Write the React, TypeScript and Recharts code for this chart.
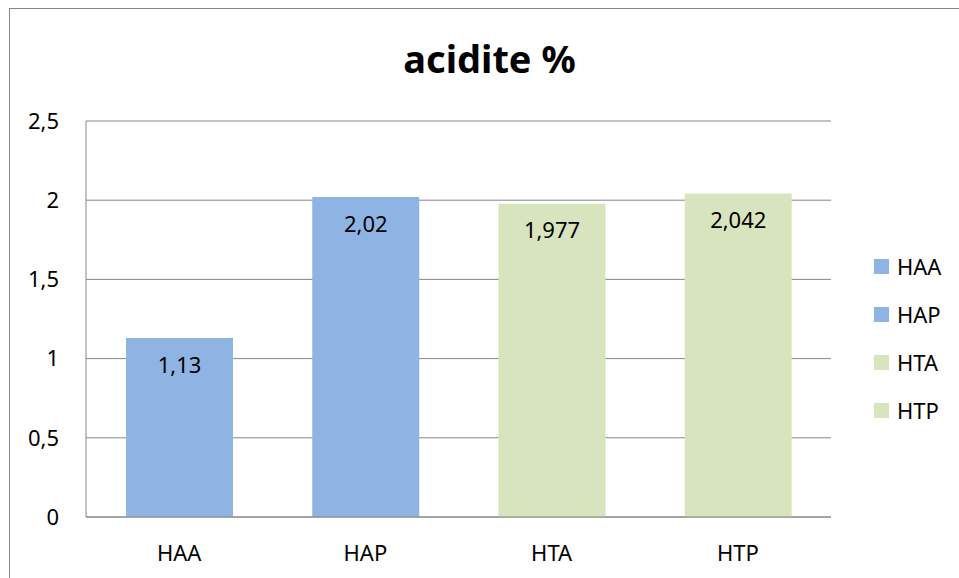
import React from "react";
import { BarChart, Bar, XAxis, YAxis, CartesianGrid, Legend, LabelList, Cell } from "recharts";

const categories = ["HAA", "HAP", "HTA", "HTP"];
const acidite = [1.13, 2.02, 1.977, 2.042];
const barColors = ["#8EB4E3", "#8EB4E3", "#D7E4BD", "#D7E4BD"];
const yTicks = [0, 0.5, 1, 1.5, 2, 2.5];
const title = "acidite %";

const data = categories.map((name, i) => ({ name, value: acidite[i] }));
const FONT = "'Noto Sans', sans-serif";
const FS = 22;
const fmt = (v: any) => String(v).replace(".", ",");

const LegendContent = () => (
  <div style={{ fontFamily: FONT, fontSize: FS, color: "#000" }}>
    {categories.map((c, i) => (
      <div key={c} style={{ display: "flex", alignItems: "center", height: 48 }}>
        <div style={{ width: 15, height: 15, background: barColors[i], marginRight: 8 }} />
        <span style={{ lineHeight: "22px" }}>{c}</span>
      </div>
    ))}
  </div>
);

export default function App() {
  return (
    <div>
      <style>{`body{margin:0;overflow:hidden;}`}</style>
      <div
        style={{
          position: "absolute",
          left: 0,
          top: 39,
          width: 979,
          textAlign: "center",
          fontFamily: FONT,
          fontWeight: 700,
          fontSize: 38,
          lineHeight: "38px",
          color: "#000",
          zIndex: 2,
        }}
      >
        {title}
      </div>
      <div
        style={{
          position: "absolute",
          left: 9,
          top: 8,
          width: 950,
          height: 570,
          boxSizing: "border-box",
          borderTop: "1px solid #868686",
          borderLeft: "1px solid #868686",
        }}
      >
        <BarChart
          width={949}
          height={569}
          data={data}
          margin={{ top: 112, right: 128, left: 0, bottom: 0 }}
        >
          <CartesianGrid vertical={false} stroke="#868686" strokeWidth={1} />
          <XAxis
            dataKey="name"
            height={61}
            tickLine={false}
            tickSize={0}
            tickMargin={28}
            axisLine={{ stroke: "#868686" }}
            tick={{ fill: "#000", fontSize: FS, fontFamily: FONT }}
          />
          <YAxis
            width={76}
            domain={[0, 2.5]}
            ticks={yTicks}
            tickFormatter={fmt}
            tickLine={false}
            tickSize={0}
            tickMargin={27}
            axisLine={{ stroke: "#868686" }}
            tick={{ fill: "#000", fontSize: FS, fontFamily: FONT }}
          />
          <Legend
            layout="vertical"
            align="center"
            verticalAlign="middle"
            content={<LegendContent />}
            wrapperStyle={{ left: 864, top: 233, width: 80 }}
          />
          <Bar dataKey="value" barSize={107} isAnimationActive={false}>
            {data.map((d, i) => (
              <Cell key={d.name} fill={barColors[i]} />
            ))}
            <LabelList
              dataKey="value"
              position="insideTop"
              offset={19}
              formatter={fmt}
              fill="#000"
              fontSize={FS}
              fontFamily={FONT}
            />
          </Bar>
        </BarChart>
      </div>
    </div>
  );
}
